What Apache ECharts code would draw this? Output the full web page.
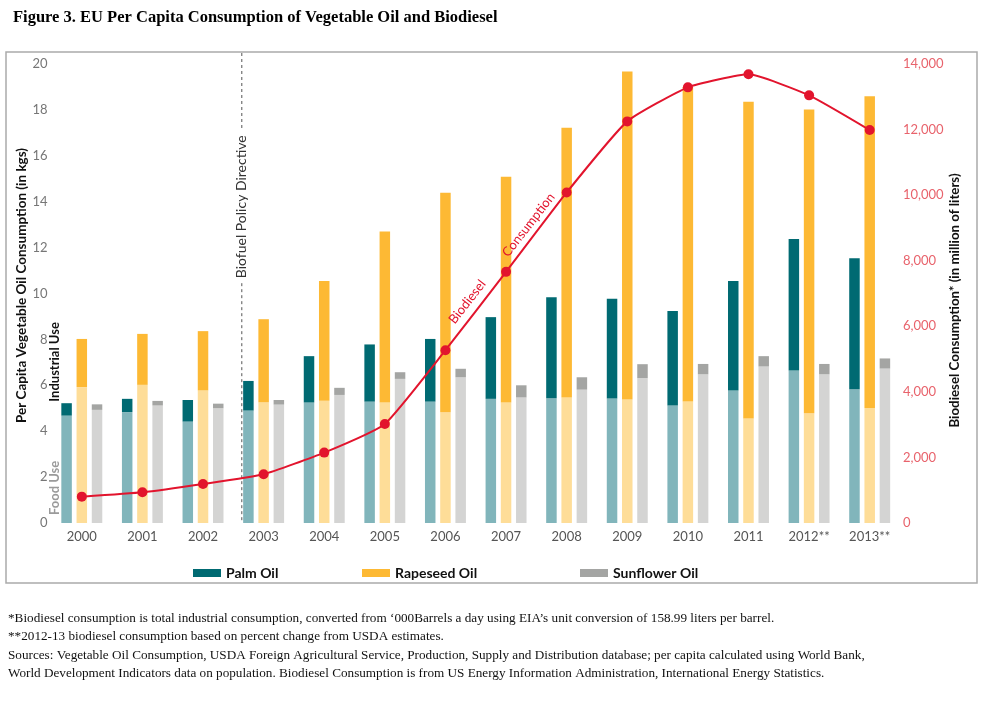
<!DOCTYPE html>
<html>
<head>
<meta charset="utf-8">
<script src="https://cdn.jsdelivr.net/npm/echarts@6/dist/echarts.min.js"></script>
<style>
html,body{margin:0;padding:0;background:#fff;}
#chart{width:1000px;height:706px;}
</style>
</head>
<body>
<div id="chart"></div>
<script>
const categories = ['2000','2001','2002','2003','2004','2005','2006','2007','2008','2009','2010','2011','2012**','2013**'];
const palmFood       = [4.68,4.83,4.42,4.90,5.25,5.29,5.29,5.41,5.44,5.42,5.12,5.77,6.64,5.83];
const palmIndustrial = [0.54,0.58,0.94,1.29,2.02,2.49,2.73,3.56,4.40,4.35,4.12,4.78,5.73,5.71];
const rapeFood       = [5.92,6.02,5.78,5.26,5.33,5.25,4.83,5.25,5.47,5.38,5.29,4.55,4.78,5.01];
const rapeIndustrial = [2.10,2.22,2.58,3.62,5.22,7.45,9.56,9.84,11.75,14.29,13.71,13.81,13.24,13.59];
const sunFood        = [4.93,5.12,5.00,5.16,5.58,6.28,6.35,5.47,5.81,6.31,6.48,6.82,6.48,6.73];
const sunIndustrial  = [0.24,0.20,0.20,0.20,0.31,0.29,0.37,0.53,0.54,0.61,0.45,0.45,0.45,0.44];
const biodiesel      = [804,936,1190,1486,2147,3022,5270,7660,10081,12250,13288,13686,13044,11986];
const leftAxisRange  = [0, 20, 2];
const rightAxisRange = [0, 14000, 2000];

const footnotes = [
  '*Biodiesel consumption is total industrial consumption, converted from \u2018000Barrels a day using EIA\u2019s unit conversion of 158.99 liters per barrel.',
  '**2012-13 biodiesel consumption based on percent change from USDA estimates.',
  'Sources: Vegetable Oil Consumption, USDA Foreign Agricultural Service, Production, Supply and Distribution database; per capita calculated using World Bank,',
  'World Development Indicators data on population. Biodiesel Consumption is from US Energy Information Administration, International Energy Statistics.'
];

const C = {
  palmDark:'#006a72', palmLight:'#81b5bb',
  rapeDark:'#fdb934', rapeLight:'#fedd98',
  sunDark:'#a4a5a3', sunLight:'#d4d4d3',
  red:'#e2142d'
};
const SANS = 'Lato, "Open Sans", sans-serif';
const SERIF = '"Liberation Serif", "DejaVu Serif", serif';

const chart = echarts.init(document.getElementById('chart'), null, {renderer:'canvas'});

function barSeries(name, stack, data, color){
  return {name:name, type:'bar', stack:stack, data:data, barWidth:10.5, barGap:'45%',
    itemStyle:{color:color}, emphasis:{disabled:true}, z:2};
}
function legendAt(left, name){
  return {left:left, top:561, itemWidth:28, itemHeight:8, icon:'rect', data:[name], selectedMode:false,
    textStyle:{fontFamily:SANS, fontWeight:'bold', fontSize:14, color:'#111'}};
}

chart.setOption({
  animation:false,
  backgroundColor:'#fff',
  title:{text:'Figure 3. EU Per Capita Consumption of Vegetable Oil and Biodiesel', left:8, top:4,
    textStyle:{fontFamily:SERIF, fontWeight:'bold', fontSize:16.5, color:'#000'}},
  legend:[legendAt(188,'Palm Oil'), legendAt(357,'Rapeseed Oil'), legendAt(575,'Sunflower Oil')],
  grid:{left:51.5, right:100, top:64, bottom:183, containLabel:false},
  xAxis:[
    {type:'category', data:categories, axisLine:{show:false}, axisTick:{show:false},
     axisLabel:{color:'#555', fontFamily:SANS, fontSize:13, margin:7}},
    {type:'value', min:-0.5, max:13.5, show:false}
  ],
  yAxis:[
    {type:'value', min:leftAxisRange[0], max:leftAxisRange[1], interval:leftAxisRange[2],
     splitLine:{show:false}, axisLine:{show:false}, axisTick:{show:false},
     axisLabel:{color:'#767676', fontFamily:SANS, fontSize:13, margin:4},
     name:'Per Capita Vegetable Oil Consumption (in kgs)', nameLocation:'middle', nameRotate:90, nameGap:23,
     nameMoveOverlap:false,
     nameTextStyle:{fontFamily:SANS, fontWeight:'bold', fontSize:13.5, color:'#111', padding:[0,0,0,16]}},
    {type:'value', min:rightAxisRange[0], max:rightAxisRange[1], interval:rightAxisRange[2],
     splitLine:{show:false}, axisLine:{show:false}, axisTick:{show:false},
     axisLabel:{color:'#e8636c', fontFamily:SANS, fontSize:13, margin:3},
     name:'Biodiesel Consumption* (in million of liters)', nameLocation:'middle', nameRotate:90, nameGap:48,
     nameMoveOverlap:false,
     nameTextStyle:{fontFamily:SANS, fontWeight:'bold', fontSize:13.3, color:'#111', padding:[0,14,0,0]}}
  ],
  series:[
    barSeries('Palm Oil Food','palm',palmFood,C.palmLight),
    barSeries('Palm Oil','palm',palmIndustrial,C.palmDark),
    barSeries('Rapeseed Oil Food','rape',rapeFood,C.rapeLight),
    barSeries('Rapeseed Oil','rape',rapeIndustrial,C.rapeDark),
    barSeries('Sunflower Oil Food','sun',sunFood,C.sunLight),
    barSeries('Sunflower Oil','sun',sunIndustrial,C.sunDark),
    {name:'Biodiesel Consumption', type:'line', yAxisIndex:1, data:biodiesel, smooth:0.15,
     symbol:'circle', symbolSize:10, lineStyle:{color:C.red, width:2}, itemStyle:{color:C.red},
     emphasis:{disabled:true}, z:5}
  ]
});

// annotations positioned through the chart's own scales
const px = (xv, yv, yi) => chart.convertToPixel({xAxisIndex:1, yAxisIndex:yi||0}, [xv, yv]);
const boxTop = 52, boxLeft = 6, boxRight = 977, boxBottom = 583;
const policyX = 2.64;
const pTopGap = px(policyX, 17.1), pBotGap = px(policyX, 10.45), pBase = px(policyX, 0), pText = px(policyX, 13.78);
const indUse = px(-0.5, 7.02), foodUse = px(-0.5, 1.53);
const bioLbl = px(6.36, 6744, 1), conLbl = px(7.37, 9093, 1);
const ang = 52 * Math.PI / 180;

const graphics = [
  {type:'rect', shape:{x:boxLeft, y:boxTop, width:boxRight-boxLeft, height:boxBottom-boxTop},
   style:{fill:'none', stroke:'#ababab', lineWidth:1.5}, z:0},
  {type:'line', shape:{x1:pTopGap[0], y1:boxTop+1, x2:pTopGap[0], y2:pTopGap[1]},
   style:{stroke:'#555', lineWidth:1, lineDash:[3,3]}, z:1},
  {type:'line', shape:{x1:pBotGap[0], y1:pBotGap[1], x2:pBase[0], y2:pBase[1]},
   style:{stroke:'#555', lineWidth:1, lineDash:[3,3]}, z:1},
  {type:'text', x:pText[0], y:pText[1], rotation:Math.PI/2,
   style:{text:'Biofuel Policy Directive', x:0, y:0, align:'center', verticalAlign:'middle',
          font:'14px ' + SANS, fill:'#333'}, z:3},
  {type:'text', x:indUse[0] + 3, y:indUse[1], rotation:Math.PI/2,
   style:{text:'Industrial Use', x:0, y:0, align:'center', verticalAlign:'middle',
          font:'bold 13px ' + SANS, fill:'#111'}, z:6},
  {type:'text', x:foodUse[0] + 3, y:foodUse[1], rotation:Math.PI/2,
   style:{text:'Food Use', x:0, y:0, align:'center', verticalAlign:'middle',
          font:'bold 13px ' + SANS, fill:'#9a9a9a'}, z:6},
  {type:'text', x:bioLbl[0], y:bioLbl[1], rotation:ang,
   style:{text:'Biodiesel', x:0, y:0, align:'center', verticalAlign:'middle',
          font:'13px ' + SANS, fill:C.red}, z:6},
  {type:'text', x:conLbl[0], y:conLbl[1], rotation:ang,
   style:{text:'Consumption', x:0, y:0, align:'center', verticalAlign:'middle',
          font:'13px ' + SANS, fill:C.red}, z:6}
];
const noteTops = [612, 630, 649, 667];
footnotes.forEach((t, i) => {
  graphics.push({type:'text', x:8, y:noteTops[i],
    style:{text:t, x:0, y:0, font:'13.2px ' + SERIF, fill:'#111'}});
});
chart.setOption({graphic:graphics});
</script>
</body>
</html>
